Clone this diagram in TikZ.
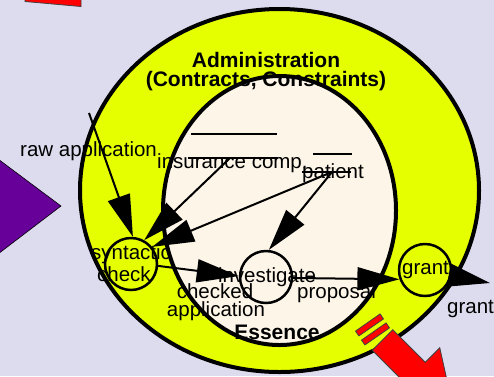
\documentclass[tikz,border=0pt]{standalone}
\usepackage{fontspec}
\setmainfont{Liberation Sans}
\usetikzlibrary{arrows.meta}
\definecolor{bg}{RGB}{220,220,238}
\definecolor{ring}{RGB}{230,255,0}
\definecolor{cream}{RGB}{253,245,232}
\definecolor{purp}{RGB}{102,0,153}
\tikzset{
  lbl/.style={inner sep=0pt, font=\fontsize{20.5}{24}\selectfont},
  blbl/.style={inner sep=0pt, font=\fontsize{21}{24}\selectfont\bfseries},
  proc/.style={circle, draw=black, line width=2.5pt, minimum size=52pt, inner sep=0pt},
  flow/.style={line width=2pt, -{Triangle[length=42pt,width=23pt]}},
  store/.style={line width=2pt},
  redshape/.style={fill=red, draw=black!75, line width=0.8pt, line join=miter},
  bigring/.style={line width=4pt, draw=black},
}
\begin{document}
\begin{tikzpicture}[x=1pt,y=-1pt]
\fill[bg] (0,0) rectangle (494,376);
\useasboundingbox (0,0) rectangle (494,376);

% side shapes
\filldraw[fill=purp, draw=black, line width=0.6pt] (-2,159) -- (61,206) -- (-2,254) -- cycle;
\filldraw[redshape] (25,-2) -- (25,1.5) -- (81,6.5) -- (81,-2) -- cycle;

% outer ring
\draw[bigring, fill=ring] (279.5,190.5) ellipse [x radius=199.5pt, y radius=181.5pt];

% processes in the ring
\node[proc, fill=ring] (syn) at (131,264) {};
\node[proc, fill=ring] (grant) at (425,270) {};
\node[lbl, anchor=base west] (syn1) at (91,259) {syntactic};
\node[lbl, anchor=base west] (syn2) at (97,281) {check};

% inner essence
\draw[bigring, fill=cream] (279.5,210.5) ellipse [x radius=116.5pt, y radius=134.5pt];
\node[proc, fill=cream] (inv) at (266,277) {};

% data stores
\draw[store] (191,134) -- (277,134);
\draw[store] (188,158) -- (278,158);
\draw[store] (313,154) -- (352,154);
\draw[store] (302,172) -- (351,172);

% sources of the flows
\coordinate (rawsrc) at (89,113);
\coordinate (inssrc) at (230,158);
\coordinate (patsrc) at (332,172);
\coordinate (grantout) at (490,283);

% flows
\draw[flow] (rawsrc) -- (syn.86);
\draw[flow] (inssrc) -- (syn.61);
\draw[flow] (patsrc) -- (syn.39);
\draw[flow] (patsrc) -- (inv.84);
\draw[flow] (syn.-4) -- (inv.178);
\draw[flow] (inv.-2) -- (grant.200);
\draw[flow] (grant.-12) -- (grantout);

% labels
\node[lbl, anchor=base west] (raw) at (20,156) {raw application};
\node[blbl, anchor=base] (adm1) at (266,67) {Administration};
\node[blbl, anchor=base] (adm2) at (266,86) {(Contracts, Constraints)};
\node[lbl, anchor=base west] (ins) at (157,168) {insurance comp.};
\node[lbl, anchor=base west] (pat) at (302,178) {patient};
\node[lbl, anchor=base] (invl) at (267,282) {investigate};
\node[lbl, anchor=base] (chk1) at (215,298) {checked};
\node[lbl, anchor=base] (chk2) at (216,316) {application};
\node[lbl, anchor=base west] (prop) at (297,298) {proposal};
\node[blbl, anchor=base] (ess) at (277,339) {Essence};
\node[lbl, anchor=base west] (gr1) at (402,274) {grant};
\node[lbl, anchor=base west] (gr2) at (447,313) {grant};

% red outgoing arrow with strips
\filldraw[redshape] (380.1,313.9) -- (383.5,318.9) -- (358.9,335.9) -- (355.5,331.1) -- cycle;
\filldraw[redshape] (386.1,322.9) -- (389.5,327.9) -- (364.9,344.9) -- (361.5,340.1) -- cycle;
\filldraw[redshape] (392.75,329.75) -- (425.25,362.25) -- (439.75,347.75) -- (453.9,411.4)
  -- (390.25,397.25) -- (404.75,382.75) -- (372.25,350.25) -- cycle;
\end{tikzpicture}
\end{document}
